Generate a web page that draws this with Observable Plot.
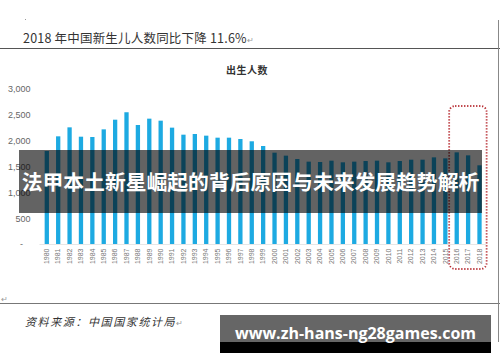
<!DOCTYPE html>
<html><head><meta charset="utf-8">
<script src="https://cdn.jsdelivr.net/npm/d3@7"></script>
<script src="https://cdn.jsdelivr.net/npm/@observablehq/plot@0.6"></script>
<style>
body{margin:0;background:#fff;}
#wrap{position:relative;width:500px;height:362px;overflow:hidden;background:#fff;font-family:"Noto Sans CJK SC","Noto Sans",sans-serif;}
#wrap svg{position:absolute;left:0;top:0;}
.abs{position:absolute;white-space:nowrap;}
</style></head><body><div id="wrap"></div>
<script>
// ---- data ----
const years = [1980,1981,1982,1983,1984,1985,1986,1987,1988,1989,1990,1991,1992,1993,1994,1995,1996,1997,1998,1999,2000,2001,2002,2003,2004,2005,2006,2007,2008,2009,2010,2011,2012,2013,2014,2015,2016,2017,2018];
const births = [1800,2084,2258,2077,2071,2219,2406,2549,2303,2426,2387,2252,2116,2129,2097,2058,2058,2032,1988,1897,1768,1710,1645,1594,1587,1613,1581,1594,1606,1613,1581,1606,1632,1632,1677,1658,1774,1716,1523];
const yTicks = [0,500,1000,1500,2000,2500,3000];
const highlight = [{x1:2015.38, x2:2018.67, y1:-484, y2:2671}];
const titleText = "2018 年中国新生儿人数同比下降 11.6%";
const chartTitle = "出生人数";
const sourceText = "资料来源：中国国家统计局";
const bannerText = "法甲本土新星崛起的背后原因与未来发展趋势解析";
const siteText = "www.zh-hans-ng28games.com";

const data = years.map((y,i)=>({year:y, births:births[i]}));

const plot = Plot.plot({
  width:500, height:362,
  marginLeft:33, marginRight:14, marginTop:89, marginBottom:118,
  style:{background:"transparent", fontFamily:"'Liberation Sans', Arial, sans-serif"},
  x:{type:"linear", domain:[1980,2018], range:[46.3,479]},
  y:{domain:[0,3000], range:[244,89]},
  marks:[
    Plot.ruleY([0], {x1:1979.4, x2:2018.6, stroke:"#e6e6e6"}),
    Plot.ruleX(data, {x:"year", y1:0, y2:"births", stroke:"#1DAAE2", strokeWidth:4.3}),
    Plot.axisY({ticks:yTicks, tickSize:0, tickPadding:3, label:null, fontSize:9, fill:"#666",
      tickFormat:d => d===0 ? "-\u00a0\u00a0\u00a0" : d3.format(",")(d)}),
    Plot.axisX({ticks:years, tickSize:0, tickPadding:4, tickRotate:-90, label:null, fontSize:7, fill:"#777",
      tickFormat:d => String(d)}),
    Plot.rect(highlight, {x1:"x1", x2:"x2", y1:"y1", y2:"y2", fill:"none", stroke:"#b5272d",
      strokeWidth:1.8, strokeDasharray:"1.2 1.8", rx:6, clip:false})
  ]
});

const wrap = document.getElementById("wrap");
wrap.appendChild(plot);

function add(html, css){
  const d = document.createElement("div");
  d.className = "abs";
  d.innerHTML = html;
  Object.assign(d.style, css);
  wrap.appendChild(d);
  return d;
}
// frame lines
add("", {left:"0px", top:"47.5px", width:"500px", height:"1.5px", background:"#555"});
add("", {left:"0px", top:"302.5px", width:"500px", height:"1.5px", background:"#777"});
add("", {left:"498px", top:"20px", width:"1.3px", height:"322px", background:"#888"});
add("", {left:"25px", top:"19px", width:"1px", height:"1px", background:"#999"});
// titles
add(titleText + '<span style="font-size:8px;color:#999">↵</span>', {left:"23px", top:"30px", fontSize:"12.5px", lineHeight:"16px", color:"#333", letterSpacing:"0.2px"});
add(chartTitle, {left:"226px", top:"63px", fontSize:"10px", lineHeight:"14px", color:"#333", fontWeight:"bold", letterSpacing:"0.5px"});
add('<span style="font-size:8px;color:#999">↵</span>', {left:"1px", top:"290px", lineHeight:"10px"});
add(sourceText + '<span style="font-size:8px;color:#999;font-style:normal">↵</span>', {left:"25px", top:"313px", fontSize:"11px", lineHeight:"16px", color:"#333", fontStyle:"italic", letterSpacing:"1.6px"});
// banner overlay
add(bannerText, {left:"19px", top:"150px", width:"463px", height:"63px", background:"rgba(0,0,0,0.61)", color:"#fff",
  fontSize:"20.8px", fontWeight:"bold", lineHeight:"63px", textAlign:"center", letterSpacing:"0px"});
// site box
add("", {left:"220px", top:"315px", width:"271px", height:"27px", background:"#666"});
add("", {left:"220px", top:"342px", width:"271px", height:"11px", background:"#000"});
add(siteText, {left:"220px", top:"322px", width:"271px", textAlign:"center", color:"#fff", fontSize:"16px", lineHeight:"22px",
  fontWeight:"bold", fontFamily:"'Open Sans','DejaVu Sans',sans-serif"});
</script></body></html>
